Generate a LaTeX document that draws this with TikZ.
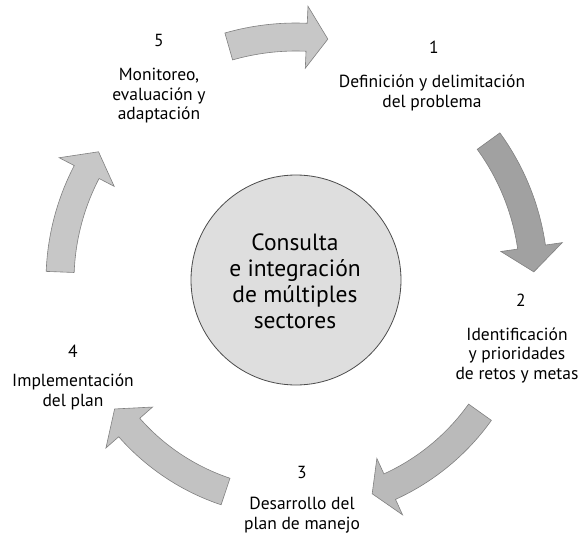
\documentclass[tikz,border=0pt]{standalone}
\usepackage{fontspec}
\setmainfont{PT Sans}
\begin{document}
\begin{tikzpicture}[
  arrowshape/.style={draw=black!50, line width=0.6pt, line join=miter},
  lbl/.style={align=center, font=\fontsize{17.5pt}{19.5pt}\selectfont, inner sep=0pt},
  centertxt/.style={align=center, font=\fontsize{23.5pt}{26pt}\selectfont, inner sep=0pt}
]
\useasboundingbox (0pt,0pt) rectangle (582pt,-541pt);
% curved arrow macro: #1 tail angle, #2 head base angle, #3 tip angle, #4 radius, #5 fill
\newcommand{\cyclearrow}[5]{%
  \filldraw[arrowshape, fill=#5]
    (#1:{#4pt+14pt}) arc[start angle=#1, end angle=#2, radius={#4pt+14pt}]
    -- (#2:{#4pt+31pt}) -- (#3:#4pt) -- (#2:{#4pt-31pt}) -- (#2:{#4pt-14pt})
    arc[start angle=#2, end angle=#1, radius={#4pt-14pt}] -- cycle;}
\begin{scope}[shift={(296pt,-281pt)}]
  \cyclearrow{106}{87.5}{82.5}{244}{black!22}
  \cyclearrow{36}{8.2}{2.2}{238}{black!37}
  \cyclearrow{-35.5}{-65.5}{-70.3}{226}{black!27}
  \cyclearrow{-108.5}{-138.7}{-144.8}{222}{black!24}
  \cyclearrow{177.8}{152.5}{146.8}{236}{black!22}
\end{scope}
\node[circle, draw=black!70, line width=0.8pt, fill=black!13, minimum size=210pt] (hub) at (296pt,-280pt) {};
\node[centertxt] (hubtxt) at (295pt,-281pt) {Consulta\\e integración\\de múltiples\\sectores};
\node[lbl] (n5) at (159pt,-40pt) {5};
\node[lbl] (t5) at (159pt,-96pt) {Monitoreo,\\evaluación y\\adaptación};
\node[lbl] (n1) at (434pt,-47pt) {1};
\node[lbl] (t1) at (432pt,-93pt) {Definición y delimitación\\del problema};
\node[lbl] (n2) at (521pt,-300pt) {2};
\node[lbl] (t2) at (517pt,-355pt) {Identificación\\y prioridades\\de retos y metas};
\node[lbl] (n3) at (302pt,-472pt) {3};
\node[lbl] (t3) at (302pt,-515pt) {Desarrollo del\\plan de manejo};
\node[lbl] (n4) at (73pt,-351pt) {4};
\node[lbl] (t4) at (73pt,-392pt) {Implementación\\del plan};
\end{tikzpicture}
\end{document}
